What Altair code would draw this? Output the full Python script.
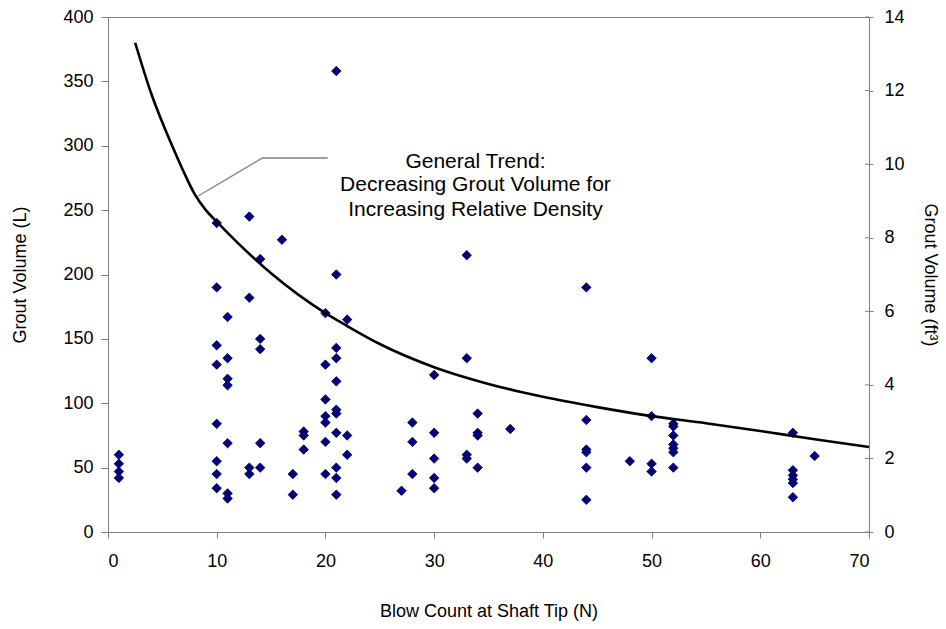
import altair as alt
import pandas as pd

# Scatter data: blow count N and grout volume (L)
blow_count = (
    [1] * 4 + [10] * 8 + [11] * 7 + [13] * 4 + [14] * 5 + [16] + [17] * 2 + [18] * 3
    + [20] * 7 + [21] * 11 + [22] * 3 + [27] + [28] * 3 + [30] * 5 + [33] * 4 + [34] * 4
    + [37] + [44] * 6 + [48] + [50] * 4 + [52] * 7 + [63] * 6 + [65]
)
grout_l = [
    60, 53, 47, 42,
    240, 190, 145, 130, 84, 55, 45, 34,
    167, 135, 119, 114, 69, 30, 26,
    245, 182, 50, 45,
    212, 150, 142, 69, 50,
    227,
    45, 29,
    78, 75, 64,
    170, 130, 103, 90, 85, 70, 45,
    358, 200, 143, 135, 117, 95, 92, 77, 50, 42, 29,
    165, 75, 60,
    32,
    85, 70, 45,
    122, 77, 57, 42, 34,
    215, 135, 60, 57,
    92, 77, 75, 50,
    80,
    190, 87, 64, 62, 50, 25,
    55,
    135, 90, 53, 47,
    84, 82, 75, 68, 65, 62, 50,
    77, 48, 44, 41, 38, 27,
    59,
]

# General trend curve
trend_n = [2.5, 4, 5, 6, 7, 8, 9, 10, 12, 15, 20, 22, 25, 30, 35, 40, 45, 50, 55, 60, 65, 70]
trend_l = [380, 340, 318, 298, 279, 262, 250, 241, 224, 201, 170, 160, 146, 128, 115, 105, 97, 90, 84.5, 78.5, 72, 66]

# Annotation leader line
leader_n = [8.3, 14.2, 20.2]
leader_l = [261, 290.5, 290.5]

# Annotation text
note_lines = ["General Trend:", "Decreasing Grout Volume for", "Increasing Relative Density"]
note_n = [33.8, 33.8, 33.8]
note_l = [283.0, 264.8, 245.7]

x_ticks = [0, 10, 20, 30, 40, 50, 60, 70]
yl_ticks = [0, 50, 100, 150, 200, 250, 300, 350, 400]
yr_ticks = [0, 2, 4, 6, 8, 10, 12, 14]

FONT = "Liberation Sans"
GRAY = "#808080"

pts = pd.DataFrame({"n": blow_count, "L": grout_l})
trend = pd.DataFrame({"n": trend_n, "L": trend_l})
leader = pd.DataFrame({"n": leader_n, "L": leader_l, "i": [0, 1, 2]})
notes = pd.DataFrame({"n": note_n, "L": note_l, "t": note_lines})
rticks = pd.DataFrame({"ft3": yr_ticks})

xscale = alt.Scale(domain=[0, 70], nice=False, zero=False)
yscale = alt.Scale(domain=[0, 400], nice=False)

x_axis = alt.Axis(
    values=x_ticks, tickSize=6, labelPadding=14, grid=False,
    title="Blow Count at Shaft Tip (N)", titlePadding=32,
)
yl_axis = alt.Axis(
    values=yl_ticks, tickSize=7, labelPadding=8, grid=False,
    title="Grout Volume (L)", titlePadding=33,
)
yr_axis = alt.Axis(
    values=yr_ticks, orient="right", tickSize=4, labelPadding=11, grid=False,
    title="Grout Volume (ft³)", titlePadding=16,
)

scatter = alt.Chart(pts).mark_point(
    shape="diamond", filled=True, size=90, fill="#000080", stroke="#000040",
    strokeWidth=0.8, opacity=1,
).encode(
    x=alt.X("n:Q", scale=xscale, axis=x_axis),
    y=alt.Y("L:Q", scale=yscale, axis=yl_axis),
)

trend_line = alt.Chart(trend).mark_line(
    color="black", strokeWidth=2.6, interpolate="monotone"
).encode(
    x=alt.X("n:Q", scale=xscale),
    y=alt.Y("L:Q", scale=yscale),
)

leader_line = alt.Chart(leader).mark_line(color=GRAY, strokeWidth=1.3).encode(
    x=alt.X("n:Q", scale=xscale),
    y=alt.Y("L:Q", scale=yscale),
    order="i:Q",
)

note_text = alt.Chart(notes).mark_text(
    font=FONT, fontSize=21, align="center", baseline="alphabetic", color="#000000"
).encode(
    x=alt.X("n:Q", scale=xscale),
    y=alt.Y("L:Q", scale=yscale),
    text="t:N",
)

left = alt.layer(scatter, trend_line, leader_line, note_text)

right = alt.Chart(rticks).mark_rule(color=GRAY, strokeWidth=1).encode(
    x=alt.value(757),
    x2=alt.value(761),
    y=alt.Y("ft3:Q", scale=alt.Scale(domain=[0, 14], nice=False), axis=yr_axis),
)

chart = alt.layer(left, right).resolve_scale(y="independent").properties(
    width=761, height=515,
    padding={"left": 108, "top": 17, "right": 77, "bottom": 97},
    autosize=alt.AutoSizeParams(type="none"),
    background="white",
).configure_axis(
    labelFont=FONT, titleFont=FONT, labelFontSize=18, titleFontSize=18,
    titleFontWeight="normal", labelColor="#000000", titleColor="#000000",
    domainColor=GRAY, tickColor=GRAY, domainWidth=1, tickWidth=1,
).configure_view(stroke=GRAY, strokeWidth=1)

chart.save("out.html", embed_options={"renderer": "svg", "actions": False})
